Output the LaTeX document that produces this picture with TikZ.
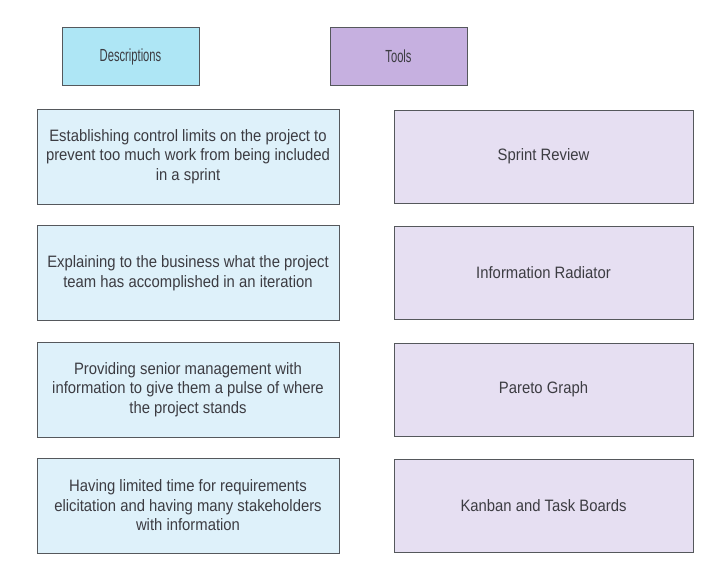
\documentclass[tikz,border=0pt]{standalone}
\usepackage{fontspec}
\setmainfont{Liberation Sans}[FakeStretch=0.9]
\newfontfamily\hdfont{Liberation Sans}[FakeStretch=0.64]
\usepackage{xcolor}
\usepackage{tikz}
\usetikzlibrary{positioning}
\definecolor{hdblue}{RGB}{174,230,245}
\definecolor{hdpurple}{RGB}{198,176,224}
\definecolor{bxblue}{RGB}{222,241,250}
\definecolor{bxpurple}{RGB}{230,223,242}
\definecolor{edgegray}{RGB}{85,88,92}
\definecolor{txtgray}{RGB}{60,60,66}

\begin{document}
\begin{tikzpicture}[x=1pt,y=-1pt,
  box/.style={draw=edgegray,line width=1pt,text=txtgray,font=\fontsize{16.5}{19.5}\selectfont,align=center,inner sep=0pt},
  hdbox/.style={box,font=\hdfont\fontsize{17.5}{20}\selectfont,minimum width=137pt,minimum height=57pt}]
  \useasboundingbox[fill=white] (0,0) rectangle (712,578);
  \node[hdbox,fill=hdblue] (desc) at (130.5,56.5) {Descriptions};
  \node[hdbox,fill=hdpurple] (tools) at (398.5,56.5) {Tools};
  \foreach \i/\yy/\dtxt/\ttxt in {
    1/156.5/{Establishing control limits on the project to\\prevent too much work from being included\\in a sprint}/{Sprint Review},
    2/273/{Explaining to the business what the project\\team has accomplished in an iteration}/{Information Radiator},
    3/389.5/{Providing senior management with\\information to give them a pulse of where\\the project stands}/{Pareto Graph},
    4/505.5/{Having limited time for requirements\\elicitation and having many stakeholders\\with information}/{Kanban and Task Boards}} {
    \node[box,fill=bxblue,minimum width=302pt,minimum height=95pt] (d\i) at (188,\yy) {\dtxt};
    \node[box,fill=bxpurple,minimum width=299pt,minimum height=93pt] (t\i) at (543.5,\yy) {\ttxt};
  }
\end{tikzpicture}
\end{document}
